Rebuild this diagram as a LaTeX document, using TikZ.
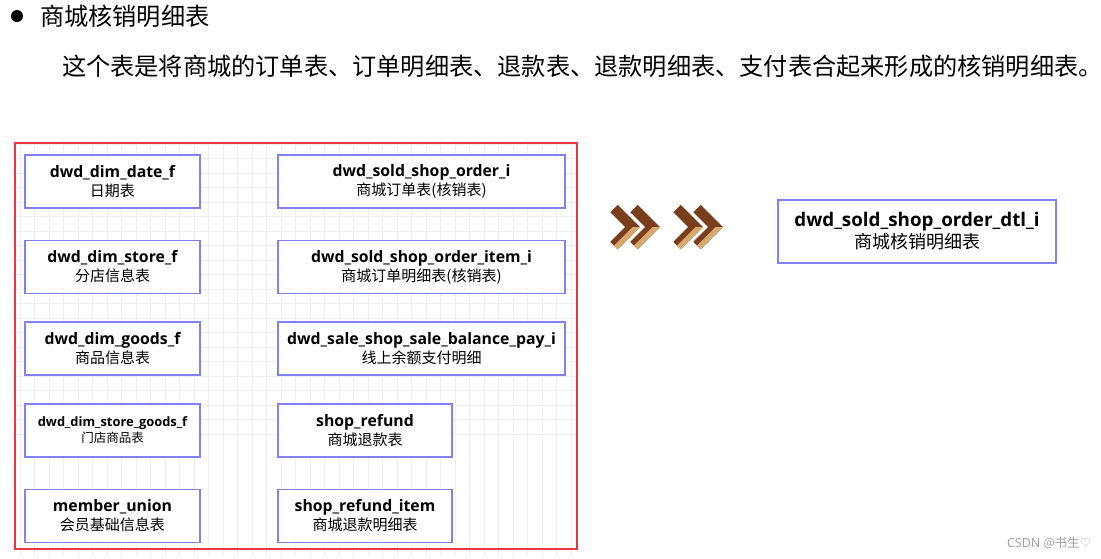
\documentclass[tikz,border=0pt]{standalone}
\usepackage{fontspec}
\setmainfont{Open Sans}
\newfontfamily\cjk{Noto Sans CJK SC}
\newfontfamily\symfont{DejaVu Sans}
\usepackage{tikz}
\usetikzlibrary{calc}
\definecolor{boxblue}{RGB}{128,128,250}
\definecolor{framered}{RGB}{238,52,64}
\definecolor{chevdark}{RGB}{122,62,29}
\definecolor{chevtan}{RGB}{216,168,108}

\begin{document}
\begin{tikzpicture}[x=1pt,y=-1pt,%
    tbl/.style={
      draw=boxblue,
      line width=1.8pt,
      fill=white,
      inner sep=0pt,
      align=center,
      minimum height=53pt,
      font=\fontsize{15.8}{19}\selectfont
    },
    gridline/.style={gray!13, line width=0.8pt}]
    \useasboundingbox (0,0) rectangle (1101,558);

    % heading
    \node[circle,fill=black,minimum size=12pt,inner sep=0] at (17,16) (bullet) {};
    \node[anchor=west,inner sep=0,font=\cjk\fontsize{24.2}{28}\selectfont] at (40,16) (title) {商城核销明细表};
    \node[anchor=west,inner sep=0,font=\cjk\fontsize{24.2}{28}\selectfont] at (62,66) (intro)
        {这个表是将商城的订单表、订单明细表、退款表、退款明细表、支付表合起来形成的核销明细表。};

    % grid behind the source tables
    \begin{scope}
        \clip (12,140) rectangle (577,556);
        \foreach \gx in {0,...,39}
            \draw[gridline] (5.8+14.5*\gx,140) -- ++(0,416);
        \foreach \gy in {0,...,29}
            \draw[gridline] (12,13.7+14.5*\gy) -- ++(565,0);
    \end{scope}
    \draw[framered,line width=2pt] (15,143) rectangle (577,549);

    \node[tbl,minimum width=175pt] at (112.5,181.5) (date)
        {{\bfseries dwd\_dim\_date\_f}\\{\cjk\fontsize{15}{19}\selectfont 日期表}};
    \node[tbl,minimum width=175pt] at (112.5,267) (store)
        {{\bfseries dwd\_dim\_store\_f}\\{\cjk\fontsize{15}{19}\selectfont 分店信息表}};
    \node[tbl,minimum width=175pt] at (112.5,348.5) (goods)
        {{\bfseries dwd\_dim\_goods\_f}\\{\cjk\fontsize{15}{19}\selectfont 商品信息表}};
    \node[tbl,minimum width=175pt,font=\fontsize{12.9}{16}\selectfont] at (112.5,430.5) (storegoods)
        {{\bfseries dwd\_dim\_store\_goods\_f}\\{\cjk\fontsize{12.5}{16}\selectfont 门店商品表}};
    \node[tbl,minimum width=175pt] at (112.5,516) (member)
        {{\bfseries member\_union}\\{\cjk\fontsize{15}{19}\selectfont 会员基础信息表}};

    \node[tbl,minimum width=287pt] at (421.5,181.5) (order)
        {{\bfseries dwd\_sold\_shop\_order\_i}\\{\cjk\fontsize{15}{19}\selectfont 商城订单表(核销表)}};
    \node[tbl,minimum width=287pt] at (421.5,267) (orderitem)
        {{\bfseries dwd\_sold\_shop\_order\_item\_i}\\{\cjk\fontsize{15}{19}\selectfont 商城订单明细表(核销表)}};
    \node[tbl,minimum width=287pt] at (421.5,348.5) (balancepay)
        {{\bfseries dwd\_sale\_shop\_sale\_balance\_pay\_i}\\{\cjk\fontsize{15}{19}\selectfont 线上余额支付明细}};
    \node[tbl,minimum width=174pt] at (365,430.5) (refund)
        {{\bfseries shop\_refund}\\{\cjk\fontsize{15}{19}\selectfont 商城退款表}};
    \node[tbl,minimum width=174pt] at (365,516) (refunditem)
        {{\bfseries shop\_refund\_item}\\{\cjk\fontsize{15}{19}\selectfont 商城退款明细表}};

    % chevrons
    \foreach \cx in {614,634,677,697} {
        \draw[chevdark,line width=10.5pt,line join=miter] (\cx,208.5) -- ++(18.5,18.5) -- ++(-18.5,18.5);
        \fill[chevtan] (\cx+25.9,227) -- (\cx+3.7,249.2) -- (\cx,245.5) -- (\cx+18.5,227) -- cycle;
    }

    \node[tbl,minimum width=278pt,minimum height=63pt,font=\fontsize{18.8}{22}\selectfont] at (917,231.5) (dtl)
        {{\bfseries dwd\_sold\_shop\_order\_dtl\_i}\\{\cjk\fontsize{18}{22}\selectfont 商城核销明细表}};

    \node[inner sep=0,text=gray!75,font=\fontsize{12.5}{14}\selectfont] at (1049,543) (mark)
        {CSDN @{\cjk 书生}{\symfont ♡}};
\end{tikzpicture}
\end{document}
